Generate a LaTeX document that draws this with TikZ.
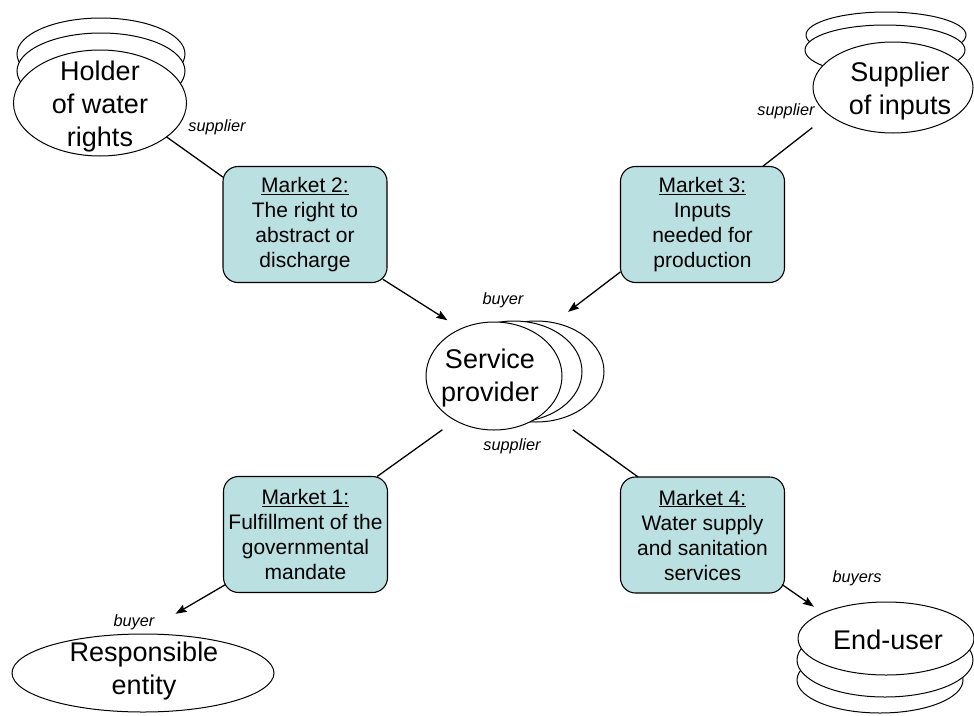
\documentclass[tikz,border=0pt]{standalone}
\usepackage{fontspec}
\setmainfont{Liberation Sans}
\usetikzlibrary{shapes.geometric,arrows.meta}
\definecolor{mktfill}{RGB}{186,224,226}

\begin{document}
\begin{tikzpicture}[x=1pt,y=-1pt,
  blob/.style={ellipse, draw, fill=white, line width=1pt, inner sep=0pt, outer sep=0pt},
  blobtext/.style={align=center, font=\fontsize{27}{33}\selectfont, inner sep=0pt},
  market/.style={draw, fill=mktfill, rounded corners=15pt, line width=1.1pt,
    minimum width=164pt, minimum height=116pt, align=center, inner sep=0pt,
    outer sep=0pt, font=\fontsize{21}{25}\selectfont},
  role/.style={font=\fontsize{16.3}{19}\selectfont\itshape, inner sep=0pt},
  link/.style={line width=1.3pt},
  flow/.style={link, -{Stealth[length=11pt,width=8pt,inset=1.5pt]}}]

% canvas
\fill[white] (0,0) rectangle (974,715);
\useasboundingbox (0,0) rectangle (974,715);

% holder of water rights (stack of three)
\node[blob, minimum width=168pt, minimum height=72pt] (holderC) at (101,54) {};
\node[blob, minimum width=168pt, minimum height=76pt] (holderB) at (101,71) {};
\node[blob, minimum width=173pt, minimum height=106pt] (holder) at (100,103) {};
\node[blobtext] (holderT) at (100,107) {Holder\\of water\\rights};

% supplier of inputs (stack of three)
\node[blob, minimum width=160pt, minimum height=46pt] (supC) at (886,35) {};
\node[blob, minimum width=160pt, minimum height=50pt] (supB) at (885,50) {};
\node[blob, minimum width=160pt, minimum height=91pt] (sup) at (893,87.5) {};
\node[blobtext] (supT) at (900,91) {Supplier\\of inputs};

% service provider (stack of three, fanned to the right)
\node[blob, minimum width=136pt, minimum height=101pt] (servC) at (536,371.5) {};
\node[blob, minimum width=136pt, minimum height=101pt] (servB) at (514,371.5) {};
\node[blob, minimum width=136pt, minimum height=108pt] (serv) at (494,376) {};
\node[blobtext] (servT) at (490,378) {Service\\provider};

% responsible entity
\node[blob, minimum width=262pt, minimum height=78pt] (resp) at (143,673) {};
\node[blobtext] (respT) at (144,671) {Responsible\\entity};

% end-user (stack of three, going down)
\node[blob, minimum width=166pt, minimum height=66pt] (endC) at (880,680) {};
\node[blob, minimum width=176pt, minimum height=74pt] (endB) at (885,660) {};
\node[blob, minimum width=176pt, minimum height=73pt] (endu) at (886,638.5) {};
\node[blobtext] (enduT) at (888,640) {End-user};

% markets
\node[market] (m2) at (305,224.5) {\underline{Market 2:}\\The right to\\abstract or\\discharge};
\node[market] (m3) at (702.5,224.5) {\underline{Market 3:}\\Inputs\\needed for\\production};
\node[market] (m1) at (305.5,534.5) {\underline{Market 1:}\\Fulfillment of the\\governmental\\mandate};
\node[market] (m4) at (702.5,535) {\underline{Market 4:}\\Water supply\\and sanitation\\services};

% connectors
\draw[link] (holder.-27.6) -- (m2.150);
\draw[flow, shorten <=-5pt, shorten >=16pt] (m2.-35) -- (serv.125);
\draw[link, shorten >=21pt] (m3.44.5) -- (sup.203.6);
\draw[flow, shorten >=18pt] (m3.210) -- (servC.70);
\draw[link, shorten <=16pt] (serv.229) -- (m1.39.6);
\draw[flow, shorten <=-2.5pt, shorten >=40pt] (m1.212) -- (resp.93);
\draw[link, shorten <=18pt] (servC.-65) -- (m4.138.5);
\draw[flow, shorten <=-3pt, shorten >=11pt] (m4.-32.2) -- (endu.158.6);

% roles
\node[role] (r1) at (217,127) {supplier};
\node[role] (r2) at (786,111) {supplier};
\node[role] (r3) at (503,300) {buyer};
\node[role] (r4) at (512,446) {supplier};
\node[role] (r5) at (134,622) {buyer};
\node[role] (r6) at (857,578) {buyers};
\end{tikzpicture}
\end{document}
